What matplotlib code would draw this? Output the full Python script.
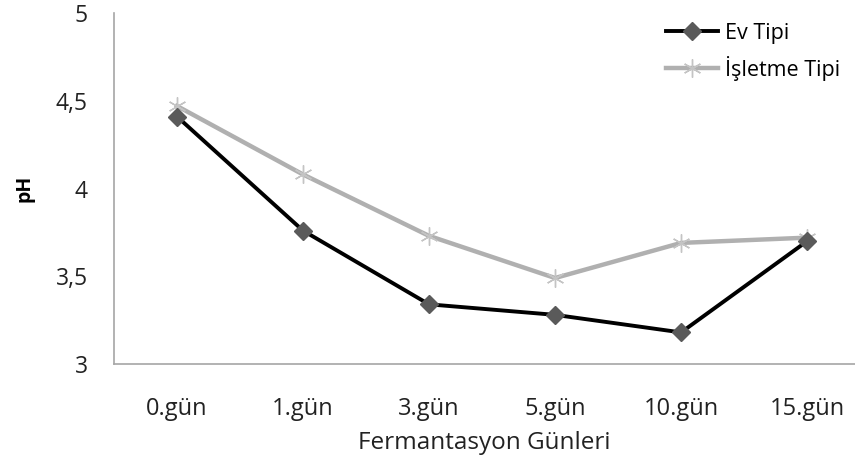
import matplotlib.pyplot as plt

plt.rcParams['font.family'] = ['Open Sans', 'DejaVu Sans']

gunler = ["0.gün", "1.gün", "3.gün", "5.gün", "10.gün", "15.gün"]
ev_tipi = [4.41, 3.76, 3.34, 3.28, 3.18, 3.70]
isletme_tipi = [4.47, 4.08, 3.73, 3.49, 3.69, 3.72]

fig = plt.figure(figsize=(8.55, 4.61), dpi=100)
ax = fig.add_axes([0.1333, 0.2104, 0.8667, 0.7614])

x = list(range(len(gunler)))
ax.plot(x, isletme_tipi, color="#b0b0b0", lw=3.2, marker=(6, 2, 0),
        markersize=13, markeredgecolor="#c4c4c4", markeredgewidth=1.0,
        label="İşletme Tipi", zorder=2)
ax.plot(x, ev_tipi, color="#000000", lw=2.8, marker="D", markersize=9,
        markerfacecolor="#5a5a5a", markeredgecolor="#5a5a5a",
        label="Ev Tipi", zorder=3)

ax.set_xlim(-0.5, 5.38)
ax.set_ylim(3, 5)
ax.set_yticks([3, 3.5, 4, 4.5, 5])
ax.set_yticklabels(["3", "3,5", "4", "4,5", "5"])
ax.set_xticks(x)
ax.set_xticklabels(gunler)
ax.tick_params(length=0, colors="#222222")
ax.tick_params(axis="y", pad=19, labelsize=16.5)
ax.tick_params(axis="x", pad=24, labelsize=17)

for s in ["top", "right"]:
    ax.spines[s].set_visible(False)
for s in ["left", "bottom"]:
    ax.spines[s].set_color("#a6a6a6")
    ax.spines[s].set_linewidth(1.2)

ax.set_xlabel("Fermantasyon Günleri", fontsize=17.5, color="#222222", labelpad=7)
ax.set_ylabel("pH", fontsize=14, fontweight="bold", labelpad=15)

h, l = ax.get_legend_handles_labels()
ax.legend(h[::-1], l[::-1], loc="upper left", bbox_to_anchor=(0.725, 1.015),
          frameon=False, fontsize=15.5, handlelength=2.4, labelspacing=0.55,
          handletextpad=0.35, borderaxespad=0.3)

fig.savefig("out.png", dpi=100)
